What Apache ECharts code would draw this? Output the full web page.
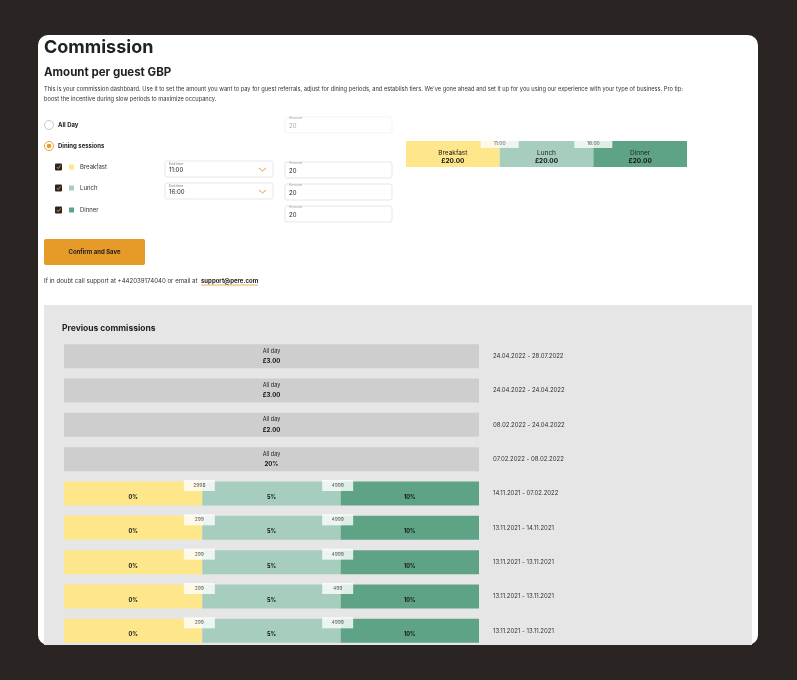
<!DOCTYPE html>
<html>
<head>
<meta charset="utf-8">
<script src="https://cdn.jsdelivr.net/npm/echarts@6/dist/echarts.min.js"></script>
<style>html,body{margin:0;padding:0;background:#2a2522}#main{width:797px;height:680px}</style>
</head>
<body>
<div id="main"></div>
<script>
// session chart (top right)
var sessionNames = ['Breakfast', 'Lunch', 'Dinner'];
var sessionAmounts = ['£20.00', '£20.00', '£20.00'];
var sessionEnds = ['11:00', '16:00'];

// previous commissions
var periods = ['24.04.2022 - 28.07.2022', '24.04.2022 - 24.04.2022', '08.02.2022 - 24.04.2022', '07.02.2022 - 08.02.2022',
  '14.11.2021 - 07.02.2022', '13.11.2021 - 14.11.2021', '13.11.2021 - 13.11.2021', '13.11.2021 - 13.11.2021', '13.11.2021 - 13.11.2021'];
var allDayValues = ['£3.00', '£3.00', '£2.00', '20%', null, null, null, null, null];
var tierRates = ['0%', '5%', '10%'];
var tierLow = [null, null, null, null, '2998', '299', '299', '299', '299'];
var tierHigh = [null, null, null, null, '4999', '4999', '4999', '499', '4999'];

var C = { yellow: '#fee68a', mint: '#a6cdbe', green: '#5fa387', gray: '#cecece', orange: '#e69a28', text: '#222' };
var F = 'Inter, "Noto Sans", sans-serif';

var chart = echarts.init(document.getElementById('main'));

function txt(x, y, s, size, weight, color, extra) {
  return { type: 'text', z: 1, style: Object.assign({ x: x, y: y, text: s, fontSize: size, fontWeight: weight || 'normal', fill: color || C.text, fontFamily: F, verticalAlign: 'middle' }, extra || {}) };
}
function box(x, y, w, h, fill, stroke, r) {
  return { type: 'rect', z: 0, shape: { x: x, y: y, width: w, height: h, r: r || 0 }, style: { fill: fill, stroke: stroke || null, lineWidth: 0.7 } };
}

var g = [
  box(38, 35, 720, 610, '#fff', null, [10, 10, 10, 10]),
  txt(44, 48, 'Commission', 18, 'bold'),
  txt(44, 73, 'Amount per guest GBP', 11.5, 'bold'),
  txt(44, 89, 'This is your commission dashboard. Use it to set the amount you want to pay for guest referrals, adjust for dining periods, and establish tiers. We\'ve gone ahead and set it up for you using our experience with your type of business. Pro tip:', 5.7, 'normal', '#333'),
  txt(44, 99, 'boost the incentive during slow periods to maximize occupancy.', 5.7, 'normal', '#333'),
  { type: 'circle', z: 1, shape: { cx: 49, cy: 125, r: 4.5 }, style: { fill: '#fff', stroke: '#bbb', lineWidth: 0.8 } },
  txt(58, 125, 'All Day', 6, 'bold'),
  { type: 'circle', z: 1, shape: { cx: 49, cy: 146, r: 4.5 }, style: { fill: '#fff', stroke: C.orange, lineWidth: 0.9 } },
  { type: 'circle', z: 1, shape: { cx: 49, cy: 146, r: 2.3 }, style: { fill: C.orange } },
  txt(58, 146, 'Dining sessions', 6, 'bold'),
  box(44, 239, 101, 26, C.orange, null, 2),
  txt(94.5, 252, 'Confirm and Save', 6, 'bold', C.text, { align: 'center' }),
  txt(44, 281, 'If in doubt call support at +442039174040 or email at', 6.1, 'normal', '#333'),
  txt(201, 281, 'support@pere.com', 6, 'bold', '#222'),
  { type: 'line', z: 1, shape: { x1: 201, y1: 285, x2: 258, y2: 285 }, style: { stroke: C.orange, lineWidth: 0.8 } },
  box(44, 305, 708, 340, '#e6e6e6'),
  txt(62, 328, 'Previous commissions', 8.5, 'bold')
];
var sessionColors = [C.yellow, C.mint, C.green];
[167, 188, 210].forEach(function (y, i) {
  g.push(box(55, y - 3.5, 7, 7, '#2b2622', null, 1));
  g.push({ type: 'polyline', z: 1, shape: { points: [[56.8, y], [58.3, y + 1.6], [60.6, y - 1.6]] }, style: { stroke: C.orange, lineWidth: 0.9, fill: null } });
  g.push(box(69, y - 2.5, 5, 5, sessionColors[i]));
  g.push(txt(80, y, sessionNames[i], 6, 'normal', '#333'));
});
[161, 183].forEach(function (y, i) {
  g.push(box(165, y, 108, 16, '#fff', '#ddd', 2));
  g.push(txt(169, y + 3, 'End time', 3.5, 'normal', '#777'));
  g.push(txt(169, y + 9.5, sessionEnds[i], 6, 'normal', '#222'));
  g.push({ type: 'polyline', z: 1, shape: { points: [[259, y + 7], [262.5, y + 10], [266, y + 7]] }, style: { stroke: C.orange, lineWidth: 1, fill: null } });
});
[[117, true], [162, false], [184, false], [206, false]].forEach(function (a) {
  var y = a[0];
  g.push(box(285, y, 107, 16, '#fff', a[1] ? '#eee' : '#ddd', 2));
  g.push(txt(289, y + 1, 'Amount', 3.5, 'normal', '#999'));
  g.push(txt(289, y + 9.5, '20', 6, 'normal', a[1] ? '#aaa' : '#222'));
});

var series = [];
// top session bars
sessionNames.forEach(function (n, i) {
  series.push({
    type: 'bar', stack: 'top', xAxisIndex: 0, yAxisIndex: 0, barWidth: 26, z: 3,
    itemStyle: { color: sessionColors[i] }, data: [1],
    label: { show: true, position: 'inside', offset: [0, 3], formatter: '{a|' + n + '}\n{b|' + sessionAmounts[i] + '}',
      rich: { a: { fontSize: 6.5, color: '#222', lineHeight: 8, fontFamily: F }, b: { fontSize: 6.5, fontWeight: 'bold', color: '#111', lineHeight: 8, fontFamily: F } } }
  });
});
series.push({
  type: 'scatter', xAxisIndex: 0, yAxisIndex: 0, z: 6, symbol: 'rect', symbolSize: [38, 10], symbolOffset: [0, -11],
  itemStyle: { color: '#fff' }, data: sessionEnds.map(function (s, i) { return [i + 1, 0, s]; }),
  label: { show: true, position: 'inside', formatter: function (p) { return p.data[2]; }, fontSize: 5, color: '#333', fontFamily: F }
});
// previous commission rows
series.push({
  type: 'bar', stack: 'p', xAxisIndex: 1, yAxisIndex: 1, barWidth: 24, z: 3, itemStyle: { color: C.gray },
  data: allDayValues.map(function (v) { return v ? 3 : null; }),
  label: { show: true, position: 'inside', formatter: function (p) { return '{a|All day}\n{b|' + allDayValues[p.dataIndex] + '}'; },
    rich: { a: { fontSize: 5.5, color: '#222', lineHeight: 10, fontFamily: F }, b: { fontSize: 6, fontWeight: 'bold', color: '#111', lineHeight: 10, fontFamily: F } } }
});
tierRates.forEach(function (r, i) {
  series.push({
    type: 'bar', stack: 'p', xAxisIndex: 1, yAxisIndex: 1, barWidth: 24, z: 3, itemStyle: { color: sessionColors[i] },
    data: tierLow.map(function (v) { return v ? 1 : null; }),
    label: { show: true, position: 'inside', offset: [0, 4], formatter: r, fontSize: 5.5, fontWeight: 'bold', color: '#111', fontFamily: F }
  });
});
[tierLow, tierHigh].forEach(function (arr, k) {
  series.push({
    type: 'scatter', xAxisIndex: 1, yAxisIndex: 1, z: 6, symbol: 'rect', symbolSize: [31, 11], symbolOffset: [-3, -8],
    itemStyle: { color: '#fff' },
    data: arr.map(function (v, i) { return v ? [k + 1, i, v] : null; }).filter(Boolean),
    label: { show: true, position: 'inside', formatter: function (p) { return p.data[2]; }, fontSize: 5, color: '#333', fontFamily: F }
  });
});

chart.setOption({
  animation: false,
  backgroundColor: '#2a2522',
  graphic: g,
  grid: [
    { left: 406, top: 141, width: 281, height: 26 },
    { left: 64, top: 339, width: 415, height: 309 }
  ],
  xAxis: [
    { type: 'value', gridIndex: 0, min: 0, max: 3, show: false },
    { type: 'value', gridIndex: 1, min: 0, max: 3, show: false }
  ],
  yAxis: [
    { type: 'category', gridIndex: 0, data: ['sessions'], show: false },
    { type: 'category', gridIndex: 1, data: periods.map(function (p, i) { return i; }), inverse: true, position: 'right', z: 3,
      axisLine: { show: false }, axisTick: { show: false },
      axisLabel: { margin: 14, formatter: function (v, i) { return periods[i]; }, fontSize: 6, color: '#333', fontFamily: F } }
  ],
  series: series
});
</script>
</body>
</html>
